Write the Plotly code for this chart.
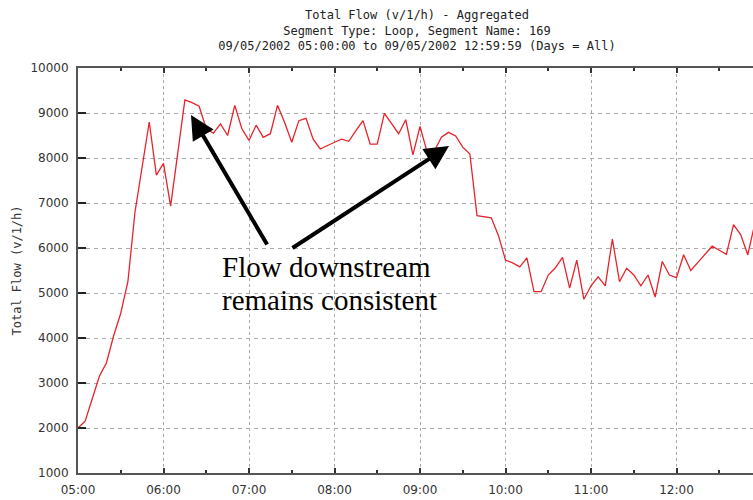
import pandas as pd
import plotly.graph_objects as go

# 5-minute total flow, 09/05/2002 05:00 .. 12:55
flow = [2000, 2150, 2650, 3150, 3450, 4050, 4550, 5250, 6800, 7800, 8800, 7620,
        7880, 6930, 8100, 9290, 9230, 9150, 8650, 8550, 8760, 8500, 9170, 8650,
        8390, 8730, 8460, 8540, 9170, 8790, 8350, 8830, 8880, 8420, 8200, 8280,
        8350, 8420, 8370, 8610, 8830, 8310, 8310, 8990, 8760, 8540, 8850, 8070,
        8700, 8130, 8150, 8460, 8570, 8490, 8240, 8090, 6720, 6690, 6670, 6280,
        5730, 5670, 5580, 5780, 5030, 5030, 5400, 5560, 5790, 5110, 5730, 4860,
        5160, 5360, 5160, 6200, 5250, 5550, 5400, 5160, 5400, 4910, 5700, 5400,
        5340, 5850, 5500, 5680, 5860, 6040, 5950, 5860, 6520, 6300, 5850, 6550]
times = pd.date_range("2002-09-05 05:00", periods=len(flow), freq="5min")

title_lines = ["Total Flow (v/1/h) - Aggregated",
               "Segment Type: Loop, Segment Name: 169",
               "09/05/2002 05:00:00 to 09/05/2002 12:59:59 (Days = All)"]
note_lines = ["Flow downstream", "remains consistent"]

fig = go.Figure()
fig.add_trace(go.Scatter(x=times, y=flow, mode="lines",
                         line=dict(color="#e8232b", width=1.3)))

fig.update_layout(
    width=753, height=500,
    margin=dict(l=78, r=0, t=68, b=27),
    plot_bgcolor="white", paper_bgcolor="white",
    showlegend=False,
    title=dict(text="<br>".join(title_lines), x=417/753, xanchor="center",
               yref="container", y=1 - 19/500, yanchor="top",
               font=dict(family="DejaVu Sans Mono", size=12, color="#222")),
    font=dict(family="DejaVu Sans", size=12, color="#333"),
)

fig.update_xaxes(
    range=["2002-09-05 05:00", "2002-09-05 12:53:40"],
    tick0="2002-09-05 05:00", dtick=3600000, tickformat="%H:%M",
    ticks="inside", ticklen=5, tickwidth=1.5, tickcolor="#333",
    minor=dict(dtick=1800000, ticks="inside", ticklen=3, tickcolor="#333", showgrid=False),
    showline=True, linecolor="#555", linewidth=2, mirror="ticks",
    showgrid=True, gridcolor="#aaa", griddash="dot", gridwidth=1,
    ticklabelstandoff=5,
)
fig.update_yaxes(
    range=[1000, 10000], dtick=1000, tickformat="d",
    ticks="inside", ticklen=8, tickwidth=1.5, tickcolor="#222",
    showline=True, linecolor="#555", linewidth=2,
    showgrid=True, gridcolor="#aaa", griddash="4px,4px", gridwidth=1,
    ticklabelstandoff=5,
    title=dict(text="Total Flow (v/1/h)", standoff=6,
               font=dict(family="DejaVu Sans Mono", size=12, color="#333")),
)

# callout text
for text, ypx in zip(note_lines, [267, 300]):
    fig.add_annotation(text=text, xref="paper", yref="paper",
                       x=(220 - 78) / 675, y=(473 - ypx) / 405,
                       xanchor="left", yanchor="middle", showarrow=False,
                       font=dict(family="Liberation Serif", size=29, color="black"))

# arrows from the text to the two plateaus
for tip, tail in [((191, 115), (268, 246)), ((449, 146), (291, 249))]:
    fig.add_annotation(text="", xref="paper", yref="paper",
                       x=(tip[0] - 78) / 675, y=(473 - tip[1]) / 405,
                       ax=tail[0] - tip[0], ay=tail[1] - tip[1],
                       showarrow=True, arrowhead=2, arrowsize=1.2,
                       arrowwidth=4, arrowcolor="black", standoff=0)

# page body has a default margin; drop it so the figure fills the window
fig.write_html("out.html", config={"displayModeBar": False},
               post_script="document.body.style.margin='0';")
